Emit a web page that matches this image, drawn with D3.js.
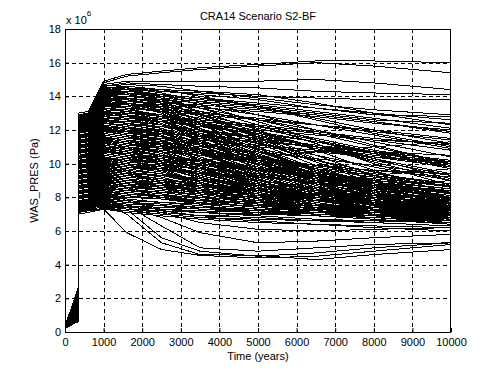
<!DOCTYPE html>
<html><head><meta charset="utf-8">
<script src="https://cdn.jsdelivr.net/npm/d3@7/dist/d3.min.js"></script>
<style>
body{margin:0;background:#fff}
text{font-family:Arial,"Liberation Sans",sans-serif;fill:#000}
</style>
</head><body>
<svg id="chart" width="499" height="374"></svg>
<script>
// ---- data (pressure in units of 1e6 Pa) ----
const chartTitle = "CRA14 Scenario S2-BF";
const xLabel = "Time (years)";
const yLabel = "WAS_PRES (Pa)";
const xTicks = [0,1000,2000,3000,4000,5000,6000,7000,8000,9000,10000];
const yTicks = [0,2,4,6,8,10,12,14,16,18];
const times = [0,340,341,600,1000,1600,2500,3500,5000,6500,8000,10000];

const topRuns = [
[0.30,2.55,13.0,13.1,14.9,15.3,15.5,15.7,15.9,16.1,16.1,16.0],
[0.25,2.45,12.9,13.0,14.8,15.2,15.4,15.6,15.8,16.0,15.8,15.4],
[0.35,2.35,12.9,13.0,14.7,14.9,14.9,14.9,14.9,15.0,14.8,14.4],
[0.20,2.25,12.8,12.9,14.6,14.8,14.7,14.6,14.5,14.3,14.2,14.1],
[0.30,2.15,12.8,12.9,14.6,14.7,14.6,14.3,13.9,13.5,13.2,12.9],
[0.25,2.05,12.7,12.8,14.5,14.6,14.4,14.0,13.4,12.7,12.0,11.2],
[0.20,1.95,12.7,12.8,14.5,14.5,14.3,14.2,14.0,13.9,13.8,13.8],
[0.35,1.85,12.6,12.7,14.4,14.5,14.2,13.7,12.9,12.0,11.1,10.0],
[0.30,1.75,12.6,12.7,14.4,14.4,14.1,13.5,12.5,11.4,10.3,9.1],
[0.25,1.65,12.5,12.6,14.3,14.3,14.1,13.9,13.6,13.3,13.0,12.6]
];
const upperRuns = [
[0.20,1.60,12.5,12.6,14.2,14.2,13.9,13.3,12.3,11.2,10.0,8.7],
[0.30,1.55,12.4,12.5,14.2,14.2,14.0,13.8,13.5,13.1,12.7,12.1],
[0.25,1.50,12.4,12.5,14.1,14.1,13.8,13.1,12.0,10.8,9.6,8.2],
[0.35,1.45,12.3,12.4,14.0,14.0,13.8,13.6,13.3,12.9,12.5,11.8],
[0.20,1.40,12.2,12.3,14.0,13.9,13.6,12.9,11.7,10.5,9.3,7.9],
[0.30,1.35,12.2,12.3,13.9,13.9,13.7,13.4,12.9,12.3,11.7,10.9],
[0.25,1.30,12.1,12.2,13.8,13.8,13.5,12.8,11.6,10.3,9.0,7.6],
[0.20,1.25,12.0,12.1,13.8,13.7,13.5,13.3,13.1,12.8,12.4,12.0],
[0.35,1.20,12.0,12.1,13.7,13.6,13.3,12.6,11.4,10.1,8.8,7.4],
[0.30,1.15,11.9,12.0,13.6,13.6,13.4,13.1,12.6,12.0,11.3,10.4],
[0.25,1.10,11.8,11.9,13.6,13.5,13.2,12.4,11.2,9.9,8.6,7.3],
[0.20,1.05,11.8,11.9,13.5,13.4,13.1,12.7,12.1,11.4,10.7,9.8],
[0.30,1.00,11.7,11.8,13.4,13.4,13.1,12.3,11.0,9.7,8.5,7.7],
[0.25,0.95,11.6,11.7,13.4,13.3,13.1,12.9,12.6,12.3,12.0,11.5],
[0.35,0.90,11.6,11.7,13.3,13.2,12.9,12.1,10.9,9.6,8.4,7.5],
[0.20,0.85,11.5,11.6,13.2,13.1,12.8,12.4,11.7,11.0,10.3,9.4],
[0.30,0.80,11.4,11.5,13.2,13.1,12.8,12.0,10.8,9.5,8.3,7.1],
[0.25,0.75,11.4,11.5,13.1,13.0,12.8,12.5,12.2,11.8,11.4,10.8],
[0.20,0.70,11.3,11.4,13.0,12.9,12.6,11.8,10.6,9.4,8.3,7.3],
[0.30,0.65,11.2,11.3,13.0,12.9,12.7,12.4,11.9,11.3,10.6,9.7]
];
const midRuns = [
[0.25,2.50,11.2,11.3,12.9,12.8,12.5,11.7,10.5,9.3,8.2,7.0],
[0.35,2.40,11.1,11.2,12.8,12.7,12.5,12.2,11.8,11.3,10.7,10.0],
[0.20,2.30,11.0,11.1,12.7,12.6,12.3,11.6,10.4,9.2,8.1,7.2],
[0.30,2.20,11.0,11.1,12.6,12.5,12.3,12.0,11.5,10.9,10.2,9.3],
[0.25,2.10,10.9,11.0,12.6,12.4,12.1,11.4,10.2,9.0,8.0,6.9],
[0.20,2.00,10.8,10.9,12.5,12.4,12.2,11.9,11.5,11.1,10.7,10.2],
[0.35,1.90,10.8,10.9,12.4,12.3,12.0,11.2,10.1,8.9,7.9,7.4],
[0.30,1.80,10.7,10.8,12.4,12.2,11.9,11.5,10.9,10.2,9.5,8.6],
[0.25,1.70,10.6,10.7,12.3,12.1,11.8,11.1,9.9,8.8,7.8,7.0],
[0.20,1.60,10.6,10.7,12.2,12.1,11.9,11.7,11.4,11.0,10.5,9.9],
[0.30,1.50,10.5,10.6,12.2,12.0,11.7,10.9,9.8,8.7,7.8,7.1],
[0.25,1.40,10.4,10.5,12.1,11.9,11.6,11.2,10.5,9.7,8.9,8.0],
[0.35,1.30,10.4,10.5,12.0,11.9,11.6,10.8,9.6,8.6,7.7,6.8],
[0.20,1.20,10.3,10.4,12.0,11.8,11.6,11.4,11.1,10.8,10.4,10.0],
[0.30,1.10,10.2,10.3,11.9,11.7,11.4,10.7,9.5,8.5,7.6,7.3],
[0.25,1.00,10.2,10.3,11.8,11.6,11.3,10.9,10.2,9.4,8.6,7.7],
[0.20,0.95,10.1,10.2,11.8,11.6,11.3,10.6,9.4,8.4,7.6,6.9],
[0.30,0.90,10.0,10.1,11.7,11.5,11.3,11.0,10.7,10.3,9.9,9.3],
[0.35,0.85,10.0,10.1,11.6,11.4,11.1,10.4,9.3,8.3,7.6,7.2],
[0.25,0.80,9.9,10.0,11.6,11.4,11.1,10.7,10.0,9.2,8.5,7.8],
[0.20,0.75,9.8,9.9,11.5,11.3,11.0,10.3,9.2,8.3,7.6,7.0],
[0.30,0.70,9.8,9.9,11.5,11.3,11.1,10.8,10.4,9.9,9.4,8.8],
[0.25,2.45,9.7,9.8,11.4,11.2,10.9,10.2,9.1,8.2,7.5,6.8],
[0.20,2.35,9.6,9.7,11.3,11.1,10.9,10.6,10.2,9.7,9.2,8.6],
[0.30,2.25,9.6,9.7,11.2,11.0,10.7,10.1,9.0,8.1,7.5,7.1],
[0.35,2.15,9.5,9.6,11.1,10.9,10.7,10.5,10.2,9.9,9.6,9.2],
[0.25,2.05,9.4,9.5,11.0,10.8,10.5,9.9,8.9,8.1,7.5,7.3],
[0.20,1.95,9.4,9.5,10.9,10.7,10.5,10.2,9.8,9.3,8.8,8.2],
[0.30,1.85,9.3,9.4,10.8,10.6,10.3,9.7,8.8,8.0,7.4,6.9],
[0.25,1.75,9.2,9.3,10.8,10.5,10.3,10.0,9.6,9.2,8.7,8.1],
[0.35,1.65,9.2,9.3,10.7,10.5,10.2,9.6,8.7,7.9,7.3,6.7],
[0.20,1.55,9.1,9.2,10.6,10.4,10.2,10.0,9.7,9.4,9.1,8.7],
[0.30,1.45,9.0,9.1,10.5,10.3,10.0,9.4,8.6,7.9,7.4,7.2],
[0.25,1.35,9.0,9.1,10.4,10.2,10.0,9.7,9.3,8.9,8.4,7.9],
[0.20,1.25,8.9,9.0,10.4,10.1,9.9,9.3,8.5,7.8,7.3,6.8],
[0.35,1.15,8.8,8.9,10.3,10.1,9.9,9.7,9.4,9.1,8.8,8.4],
[0.30,1.05,8.8,8.9,10.2,10.0,9.7,9.2,8.4,7.8,7.4,7.0],
[0.25,0.95,8.7,8.8,10.1,9.9,9.7,9.4,9.0,8.6,8.2,7.7],
[0.20,0.85,8.6,8.7,10.0,9.8,9.5,9.0,8.3,7.7,7.2,6.6],
[0.30,0.75,8.6,8.7,10.0,9.8,9.6,9.4,9.2,9.0,8.7,8.3],
[0.25,0.65,8.5,8.6,9.9,9.7,9.4,8.9,8.2,7.6,7.2,6.9],
[0.35,2.60,8.4,8.5,9.8,9.6,9.4,9.1,8.7,8.3,8.0,7.6],
[0.20,2.50,8.4,8.5,9.8,9.5,9.3,8.8,8.1,7.6,7.3,7.1],
[0.30,2.40,8.3,8.4,9.7,9.5,9.3,9.0,8.7,8.4,8.1,7.8]
];
const lowRuns = [
[0.25,2.30,8.2,8.3,9.6,9.4,9.1,8.7,8.0,7.5,7.1,6.7],
[0.20,2.20,8.2,8.3,9.5,9.3,9.1,8.8,8.5,8.2,7.9,7.5],
[0.30,2.10,8.1,8.2,9.4,9.2,9.0,8.6,7.9,7.4,7.1,6.9],
[0.35,2.00,8.0,8.1,9.3,9.1,8.9,8.7,8.4,8.2,8.0,7.7],
[0.25,1.90,8.0,8.1,9.2,9.0,8.8,8.4,7.8,7.4,7.2,7.0],
[0.20,1.80,7.9,8.0,9.1,8.9,8.8,8.6,8.4,8.1,7.8,7.4],
[0.30,1.70,7.9,8.0,9.0,8.8,8.6,8.2,7.7,7.3,7.0,6.8],
[0.25,1.60,7.8,7.9,8.9,8.7,8.6,8.4,8.2,8.0,7.8,7.6],
[0.35,1.50,7.8,7.9,8.8,8.6,8.4,8.1,7.6,7.3,7.1,6.9],
[0.20,1.40,7.7,7.8,8.7,8.6,8.5,8.3,8.1,7.9,7.7,7.5],
[0.30,1.30,7.7,7.8,8.6,8.4,8.2,7.9,7.5,7.2,7.0,6.7],
[0.25,1.20,7.6,7.7,8.5,8.4,8.3,8.2,8.0,7.8,7.6,7.3],
[0.20,1.10,7.6,7.7,8.4,8.2,8.0,7.8,7.4,7.1,6.9,6.6],
[0.30,1.00,7.5,7.6,8.3,8.2,8.1,8.0,7.8,7.6,7.4,7.2],
[0.35,0.90,7.5,7.6,8.2,8.0,7.9,7.7,7.4,7.2,7.0,6.8],
[0.25,0.80,7.4,7.5,8.1,8.0,7.9,7.8,7.7,7.5,7.3,7.1],
[0.20,0.70,7.4,7.5,8.0,7.9,7.7,7.5,7.2,7.0,6.8,6.5],
[0.30,0.60,7.3,7.4,7.9,7.8,7.7,7.6,7.5,7.4,7.3,7.2],
[0.25,2.55,7.3,7.4,7.8,7.7,7.6,7.4,7.2,7.0,6.9,6.8],
[0.20,2.25,7.2,7.3,7.7,7.6,7.5,7.3,7.1,6.9,6.7,6.4],
[0.30,1.95,7.2,7.3,7.6,7.5,7.4,7.3,7.2,7.1,7.0,6.9],
[0.35,1.65,7.1,7.2,7.5,7.4,7.3,7.1,6.9,6.7,6.5,6.3],
[0.25,1.35,7.1,7.2,7.5,7.3,7.2,7.1,7.0,6.9,6.8,6.6],
[0.20,1.05,7.0,7.1,7.4,7.2,7.0,6.8,6.6,6.4,6.2,6.0],
[0.30,0.75,7.0,7.1,7.3,7.1,6.9,6.7,6.5,6.4,6.3,6.2]
];
const extraRuns = [
[0.22,2.50,12.85,12.95,14.45,14.4,14.0,13.0,11.5,10.2,9.3,8.6],
[0.28,2.42,12.75,12.85,14.40,14.5,14.4,14.3,14.1,13.6,13.0,12.3],
[0.33,2.36,12.70,12.80,14.35,14.2,13.6,12.4,10.8,9.6,8.9,8.3],
[0.18,2.28,12.65,12.75,14.30,14.4,14.3,14.1,13.8,13.3,12.9,12.8],
[0.26,2.18,12.55,12.65,14.25,14.1,13.7,12.9,11.9,11.0,10.1,9.0],
[0.31,2.08,12.50,12.60,14.15,14.2,14.1,13.9,13.4,12.6,11.8,11.0],
[0.21,1.98,12.45,12.55,14.10,13.9,13.3,12.1,10.5,9.4,8.6,7.9],
[0.36,1.88,12.35,12.45,14.05,14.0,13.9,13.7,13.4,13.0,12.6,12.4],
[0.24,1.78,12.30,12.40,13.95,13.8,13.4,12.6,11.3,10.1,9.0,7.8],
[0.29,1.68,12.25,12.35,13.90,13.9,13.7,13.3,12.6,11.8,11.0,10.0],
[0.19,1.58,12.15,12.25,13.85,13.6,13.1,12.0,10.5,9.2,8.2,7.3],
[0.34,1.48,12.05,12.15,13.75,13.7,13.6,13.5,13.2,12.9,12.5,11.9],
[0.27,1.38,12.00,12.10,13.65,13.5,13.0,12.0,10.7,9.6,8.7,7.9],
[0.22,1.28,11.95,12.05,13.55,13.5,13.3,12.9,12.2,11.5,10.8,10.1],
[0.32,1.18,11.85,11.95,13.45,13.3,12.8,11.8,10.4,9.2,8.3,7.6],
[0.17,1.08,11.80,11.90,13.40,13.3,13.2,13.0,12.7,12.3,11.9,11.4],
[0.26,0.98,11.70,11.80,13.30,13.1,12.6,11.6,10.2,9.1,8.2,7.4],
[0.30,0.88,11.65,11.75,13.20,13.1,12.9,12.5,11.8,11.0,10.2,9.3],
[0.23,0.78,11.55,11.65,13.10,12.9,12.4,11.4,10.0,8.9,8.1,7.5],
[0.35,0.68,11.50,11.60,13.05,13.0,12.8,12.6,12.3,11.9,11.5,11.1],
[0.20,2.55,11.40,11.50,12.95,12.8,12.3,11.3,9.9,8.8,8.0,7.3],
[0.28,2.47,11.35,11.45,12.90,12.8,12.6,12.3,11.7,11.0,10.4,9.8],
[0.33,2.39,11.25,11.35,12.80,12.6,12.1,11.1,9.7,8.6,7.8,7.2],
[0.18,2.31,11.20,11.30,12.70,12.6,12.5,12.3,12.0,11.7,11.4,11.2],
[0.25,2.23,11.10,11.20,12.65,12.4,11.9,10.9,9.5,8.5,7.8,7.4],
[0.31,2.13,11.05,11.15,12.55,12.4,12.2,11.8,11.2,10.5,9.8,9.0],
[0.22,2.03,10.95,11.05,12.45,12.2,11.7,10.7,9.4,8.4,7.7,7.1],
[0.36,1.93,10.90,11.00,12.40,12.3,12.2,12.0,11.6,11.1,10.6,10.1],
[0.24,1.83,10.80,10.90,12.30,12.1,11.6,10.6,9.3,8.3,7.6,7.0],
[0.29,1.73,10.75,10.85,12.20,12.0,11.8,11.3,10.5,9.6,8.8,8.0],
[0.19,1.63,10.65,10.75,12.15,11.9,11.4,10.4,9.1,8.2,7.6,7.2],
[0.34,1.53,10.60,10.70,12.05,11.9,11.8,11.6,11.3,11.0,10.7,10.5],
[0.27,1.43,10.50,10.60,11.95,11.7,11.2,10.2,9.0,8.1,7.5,6.9],
[0.22,1.33,10.45,10.55,11.90,11.7,11.5,11.1,10.4,9.6,8.9,8.2],
[0.32,1.23,10.35,10.45,11.80,11.6,11.1,10.1,8.9,8.0,7.5,7.3],
[0.17,1.13,10.30,10.40,11.70,11.5,11.4,11.2,11.0,10.7,10.4,10.1],
[0.26,1.03,10.20,10.30,11.60,11.4,10.9,9.9,8.8,7.9,7.4,7.0],
[0.30,0.93,10.15,10.25,11.55,11.4,11.2,10.8,10.1,9.3,8.6,7.9],
[0.23,0.83,10.05,10.15,11.45,11.2,10.7,9.8,8.7,7.9,7.4,7.1],
[0.35,0.73,10.00,10.10,11.35,11.2,11.0,10.7,10.3,9.8,9.3,8.8],
[0.20,0.63,9.90,10.00,11.25,11.0,10.6,9.7,8.6,7.8,7.3,6.8],
[0.28,2.57,9.85,9.95,11.20,11.0,10.8,10.5,10.0,9.5,9.0,8.5],
[0.33,2.49,9.75,9.85,11.10,10.9,10.5,9.6,8.5,7.8,7.3,7.0],
[0.18,2.41,9.70,9.80,11.00,10.9,10.7,10.5,10.2,9.9,9.6,9.4],
[0.25,2.33,9.60,9.70,10.95,10.7,10.3,9.5,8.5,7.8,7.4,7.2],
[0.31,2.25,9.55,9.65,10.85,10.7,10.5,10.2,9.7,9.1,8.6,8.0],
[0.22,2.17,9.45,9.55,10.75,10.5,10.1,9.3,8.4,7.7,7.2,6.7],
[0.36,2.07,9.40,9.50,10.70,10.6,10.4,10.1,9.7,9.3,8.9,8.5],
[0.24,1.97,9.30,9.40,10.60,10.4,10.0,9.2,8.3,7.6,7.2,6.9],
[0.29,1.87,9.25,9.35,10.50,10.3,10.1,9.8,9.3,8.8,8.3,7.8],
[0.19,1.77,9.15,9.25,10.40,10.2,9.8,9.1,8.2,7.6,7.2,7.0],
[0.34,1.67,9.10,9.20,10.35,10.2,10.1,9.9,9.6,9.3,9.0,8.7],
[0.27,1.57,9.00,9.10,10.25,10.0,9.7,8.9,8.1,7.5,7.1,6.8],
[0.22,1.47,8.95,9.05,10.15,10.0,9.8,9.5,9.0,8.5,8.0,7.6],
[0.32,1.37,8.85,8.95,10.05,9.9,9.6,8.9,8.0,7.5,7.2,7.1],
[0.17,1.27,8.80,8.90,9.95,9.8,9.7,9.5,9.2,8.9,8.6,8.4],
[0.26,1.17,8.70,8.80,9.85,9.7,9.4,8.8,8.0,7.4,7.0,6.7],
[0.30,1.07,8.65,8.75,9.75,9.6,9.4,9.1,8.7,8.3,7.9,7.5],
[0.23,0.97,8.55,8.65,9.65,9.5,9.2,8.6,7.9,7.4,7.1,6.9],
[0.35,0.87,8.50,8.60,9.55,9.4,9.3,9.1,8.8,8.5,8.2,8.0],
[0.20,0.77,8.40,8.50,9.45,9.3,9.0,8.5,7.8,7.3,7.0,6.6],
[0.28,0.67,8.35,8.45,9.35,9.2,9.0,8.8,8.4,8.0,7.7,7.4],
[0.33,2.52,8.25,8.35,9.25,9.1,8.9,8.4,7.8,7.3,7.0,6.8],
[0.18,2.44,8.20,8.30,9.15,9.0,8.9,8.7,8.4,8.1,7.8,7.6],
[0.25,2.36,8.10,8.20,9.05,8.9,8.7,8.3,7.7,7.3,7.1,6.9],
[0.31,2.26,8.05,8.15,8.95,8.8,8.7,8.5,8.2,7.9,7.6,7.3],
[0.22,2.16,7.95,8.05,8.85,8.7,8.5,8.1,7.6,7.2,6.9,6.6],
[0.36,2.06,7.90,8.00,8.75,8.6,8.5,8.3,8.0,7.8,7.6,7.4],
[0.24,1.96,7.80,7.90,8.65,8.5,8.3,8.0,7.5,7.2,7.0,6.8],
[0.29,1.86,7.75,7.85,8.55,8.4,8.3,8.2,8.0,7.8,7.7,7.6],
[0.19,1.76,7.65,7.75,8.45,8.3,8.1,7.8,7.4,7.1,6.9,6.7],
[0.34,1.66,7.60,7.70,8.35,8.2,8.1,8.0,7.8,7.6,7.4,7.2],
[0.27,1.56,7.55,7.65,8.25,8.1,7.9,7.6,7.3,7.0,6.8,6.6],
[0.22,1.46,7.50,7.60,8.15,8.0,7.9,7.8,7.6,7.5,7.4,7.3],
[0.32,1.36,7.45,7.55,8.05,7.9,7.7,7.5,7.2,7.0,6.8,6.5],
[0.17,1.26,7.40,7.50,7.95,7.8,7.7,7.6,7.5,7.4,7.3,7.2],
[0.26,1.16,7.35,7.45,7.85,7.7,7.5,7.3,7.1,6.9,6.7,6.4],
[0.30,1.06,7.30,7.40,7.75,7.6,7.5,7.4,7.3,7.2,7.1,7.0],
[0.23,0.96,7.25,7.35,7.65,7.5,7.3,7.1,6.9,6.7,6.6,6.5],
[0.35,0.86,7.20,7.30,7.55,7.4,7.3,7.2,7.1,7.0,6.9,6.9],
[0.20,0.76,7.15,7.25,7.45,7.3,7.1,6.9,6.8,6.6,6.5,6.3],
[0.28,0.66,7.10,7.20,7.35,7.2,7.0,6.8,6.7,6.6,6.6,6.6],
[0.25,1.90,8.60,8.70,9.00,8.6,8.0,7.6,7.8,8.2,8.6,9.0],
[0.30,1.30,9.50,9.60,10.20,9.6,8.8,8.3,8.5,8.9,9.3,9.7],
[0.22,2.10,7.90,8.00,8.40,7.8,7.2,6.9,7.0,7.3,7.6,7.9],
[0.33,1.50,10.40,10.50,11.30,10.9,10.4,10.2,10.4,10.7,11.0,11.3]
];
const dipRuns = [
[0.25,1.20,7.2,7.3,7.3,5.9,4.9,4.55,4.4,4.5,4.8,5.2],
[0.30,0.90,7.4,7.5,7.6,7.0,5.3,4.6,4.55,4.3,4.6,4.9],
[0.20,1.50,7.5,7.6,7.7,7.3,5.6,4.8,4.5,4.7,5.0,5.3],
[0.35,2.00,7.6,7.7,7.8,7.5,6.3,5.0,4.8,5.0,5.2,5.3],
[0.25,1.00,7.3,7.4,7.6,7.4,6.8,5.9,5.3,5.4,5.6,5.8],
[0.30,1.80,7.4,7.5,7.6,7.5,7.1,6.5,6.1,6.0,6.1,6.2]
];

// ---- drawing ----
const svg = d3.select("#chart");
svg.append("rect").attr("width",499).attr("height",374).attr("fill","#fff");
const L = 65, R = 451, T = 29, B = 332;
const x = d3.scaleLinear().domain([0,10000]).range([L,R]);
const y = d3.scaleLinear().domain([0,18]).range([B,T]);

const grid = svg.append("g").attr("stroke","#000").attr("stroke-width",1)
  .attr("stroke-dasharray","4,3").attr("shape-rendering","crispEdges");
grid.selectAll("line.vx").data(xTicks.slice(1,-1)).join("line")
  .attr("x1",d=>Math.round(x(d))+0.5).attr("x2",d=>Math.round(x(d))+0.5)
  .attr("y1",T).attr("y2",B);
grid.selectAll("line.hy").data(yTicks.slice(1,-1)).join("line")
  .attr("y1",d=>Math.round(y(d))+0.5).attr("y2",d=>Math.round(y(d))+0.5)
  .attr("x1",L).attr("x2",R);

const allRuns = [].concat(topRuns, upperRuns, midRuns, lowRuns, extraRuns, dipRuns);
const line = d3.line().x((d,i)=>x(times[i])).y(d=>y(d));
svg.append("g").attr("shape-rendering","crispEdges").selectAll("path").data(allRuns).join("path")
  .attr("d",line).attr("fill","none").attr("stroke","#000").attr("stroke-width",1);

// axes
const xAxis = d3.axisBottom(x).tickValues(xTicks).tickFormat(d3.format("d"))
  .tickSizeInner(-4).tickSizeOuter(0).tickPadding(6);
const gx = svg.append("g").attr("transform",`translate(0,${B})`).call(xAxis);
const yAxis = d3.axisLeft(y).tickValues(yTicks).tickFormat(d3.format("d"))
  .tickSizeInner(-4).tickSizeOuter(0).tickPadding(4);
const gy = svg.append("g").attr("transform",`translate(${L},0)`).call(yAxis);
[gx,gy].forEach(g=>{
  g.select(".domain").remove();
  g.selectAll(".tick line").attr("stroke","#000");
  g.selectAll("text").attr("font-size",11).attr("font-family","Arial, 'Liberation Sans', sans-serif").attr("fill","#000");
});
// frame
svg.append("rect").attr("x",L+0.5).attr("y",T+0.5).attr("width",R-L-1).attr("height",B-T)
  .attr("fill","none").attr("stroke","#000").attr("stroke-width",1).attr("shape-rendering","crispEdges");

// texts
svg.append("text").attr("x",(L+R)/2).attr("y",20).attr("text-anchor","middle")
  .attr("font-size",11).text(chartTitle);
svg.append("text").attr("x",(L+R)/2).attr("y",360).attr("text-anchor","middle")
  .attr("font-size",11).text(xLabel);
svg.append("text").attr("transform",`translate(38,${(T+B)/2}) rotate(-90)`).attr("text-anchor","middle")
  .attr("font-size",11).text(yLabel);
const ex = svg.append("text").attr("x",66).attr("y",24).attr("font-size",11);
ex.append("tspan").text("x 10");
ex.append("tspan").attr("font-size",8).attr("dy",-8).text("6");
</script>
</body></html>
